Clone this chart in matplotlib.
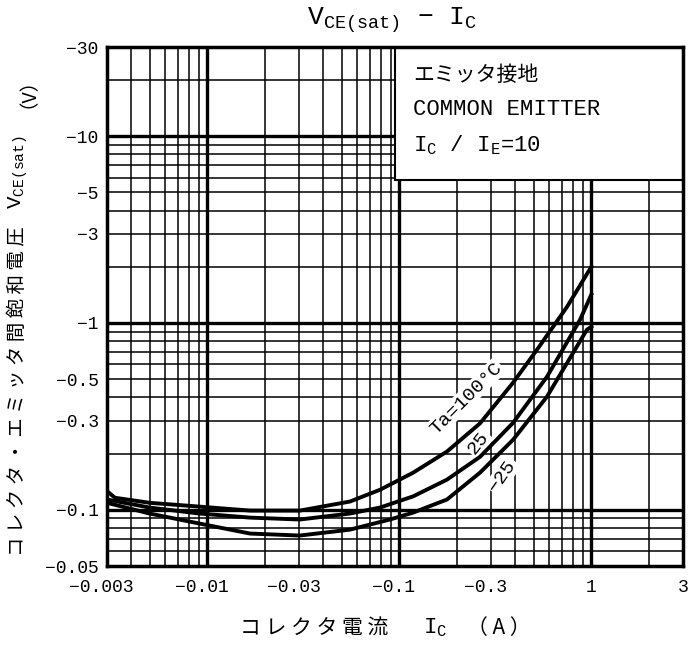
import matplotlib
matplotlib.use("Agg")
import matplotlib.pyplot as plt
from matplotlib.patches import Rectangle

plt.rcParams['font.family'] = ['Liberation Mono', 'Noto Sans CJK JP', 'DejaVu Sans']
plt.rcParams['mathtext.fontset'] = 'custom'
plt.rcParams['mathtext.rm'] = 'Liberation Mono'
plt.rcParams['mathtext.it'] = 'Liberation Mono'
plt.rcParams['mathtext.tt'] = 'Liberation Mono'

# collector current (A) and saturation voltage (V), magnitudes
ic_100 = [0.003, 0.0033, 0.005, 0.0091, 0.0167, 0.0303, 0.0553, 0.0793, 0.118, 0.177, 0.263, 0.391, 0.521, 0.747, 1.0]
vce_100 = [0.126, 0.116, 0.109, 0.104, 0.099, 0.099, 0.1107, 0.128, 0.158, 0.205, 0.29, 0.479, 0.719, 1.22, 2.0]

ic_25 = [0.003, 0.005, 0.0091, 0.0167, 0.0303, 0.0553, 0.0793, 0.118, 0.177, 0.263, 0.391, 0.587, 0.873, 1.0]
vce_25 = [0.1135, 0.1028, 0.0955, 0.0908, 0.0887, 0.0955, 0.1028, 0.118, 0.145, 0.192, 0.292, 0.515, 1.04, 1.42]

ic_m25 = [0.003, 0.005, 0.0091, 0.0167, 0.0303, 0.0553, 0.0893, 0.118, 0.177, 0.263, 0.391, 0.587, 0.948, 1.0]
vce_m25 = [0.109, 0.0955, 0.0844, 0.0746, 0.0728, 0.0783, 0.0887, 0.0966, 0.1135, 0.158, 0.237, 0.403, 0.92, 0.955]

xticks = [0.003, 0.01, 0.03, 0.1, 0.3, 1, 3]
xticklabels = ['\u22120.003', '\u22120.01', '\u22120.03', '\u22120.1', '\u22120.3', '1', '3']
yticks = [30, 10, 5, 3, 1, 0.5, 0.3, 0.1, 0.05]
yticklabels = ['\u221230', '\u221210', '\u22125', '\u22123', '\u22121', '\u22120.5', '\u22120.3', '\u22120.1', '\u22120.05']

fig = plt.figure(figsize=(6.9, 6.46), dpi=100)
ax = fig.add_axes([0.155, 0.1238, 0.8348, 0.8034])
ax.set_xscale('log')
ax.set_yscale('log')
ax.set_xlim(0.003, 3)
ax.set_ylim(0.05, 30)

# log grid, drawn by hand so decade lines can be heavier
for d in [0.001, 0.01, 0.1, 1]:
    for k in range(1, 10):
        v = k * d
        if 0.003 < v < 3:
            ax.axvline(v, color='black', lw=2.4 if k == 1 else 1.1, zorder=1)
for d in [0.01, 0.1, 1, 10]:
    for k in range(1, 10):
        v = k * d
        if 0.05 < v < 30:
            ax.axhline(v, color='black', lw=2.4 if k == 1 else 1.1, zorder=1)

ax.plot(ic_100, vce_100, color='black', lw=2.8, zorder=4)
ax.plot(ic_25, vce_25, color='black', lw=2.8, zorder=4)
ax.plot(ic_m25, vce_m25, color='black', lw=2.8, zorder=4)

lbl = dict(fontsize=14, ha='center', va='center', zorder=3,
           bbox=dict(facecolor='white', edgecolor='none', pad=1))
ax.text(0.222, 0.395, 'Ta=100°C', rotation=45, **lbl)
ax.text(0.258, 0.228, '25', rotation=52, **lbl)
ax.text(0.345, 0.152, '\u221225', rotation=55, **lbl)

# condition box
ax.add_patch(Rectangle((0.5, 0.744), 0.5, 0.256, transform=ax.transAxes,
                       facecolor='white', edgecolor='black', lw=1.5, zorder=5))
ax.text(0.531, 0.946, 'エミッタ接地', transform=ax.transAxes, fontsize=15,
        family=['Noto Sans CJK JP'], va='center', zorder=6)
ax.text(0.531, 0.879, 'COMMON EMITTER', transform=ax.transAxes, fontsize=16,
        va='center', zorder=6)
ax.text(0.531, 0.811, r'I$_\mathrm{C}$ / I$_\mathrm{E}$=10', transform=ax.transAxes,
        fontsize=16, va='center', zorder=6)

ax.set_xticks(xticks)
# trailing no-break space nudges the negative labels left, as in the original
ax.set_xticklabels([t + '\u00a0' if t.startswith('\u2212') else t for t in xticklabels])
ax.set_yticks(yticks)
ax.set_yticklabels(yticklabels)
ax.minorticks_off()
ax.tick_params(length=0, labelsize=13)
ax.tick_params(axis='x', pad=9)
ax.tick_params(axis='y', pad=6)

for s in ax.spines.values():
    s.set_linewidth(2.5)
    s.set_zorder(7)

fig.text(0.568, 0.969, '$\\mathrm{V_{CE(sat)}}$ \u2212 $\\mathrm{I_C}$',
         ha='center', va='center', fontsize=19)

# x axis title
fig.text(0.348, 0.028, 'コ レ ク タ 電 流', family=['Noto Sans CJK JP'],
         ha='left', va='center', fontsize=15)
fig.text(0.613, 0.028, '$\\mathrm{I_C}$', ha='left', va='center', fontsize=16)
fig.text(0.677, 0.028, '（ A ）', family=['Noto Sans CJK JP'],
         ha='left', va='center', fontsize=15)

# y axis title
fig.text(0.026, 0.139, 'コ レ ク タ ・ エ ミ ッ タ 間 飽 和 電 圧', family=['Noto Sans CJK JP'],
         ha='center', va='bottom', fontsize=14, rotation=90)
fig.text(0.026, 0.734, '$\\mathrm{V_{CE(sat)}}$', ha='center', va='center',
         fontsize=15, rotation=90)
fig.text(0.026, 0.872, '（V）', family=['Noto Sans CJK JP'], ha='center', va='center',
         fontsize=14, rotation=90)

fig.savefig('out.png', dpi=100)
